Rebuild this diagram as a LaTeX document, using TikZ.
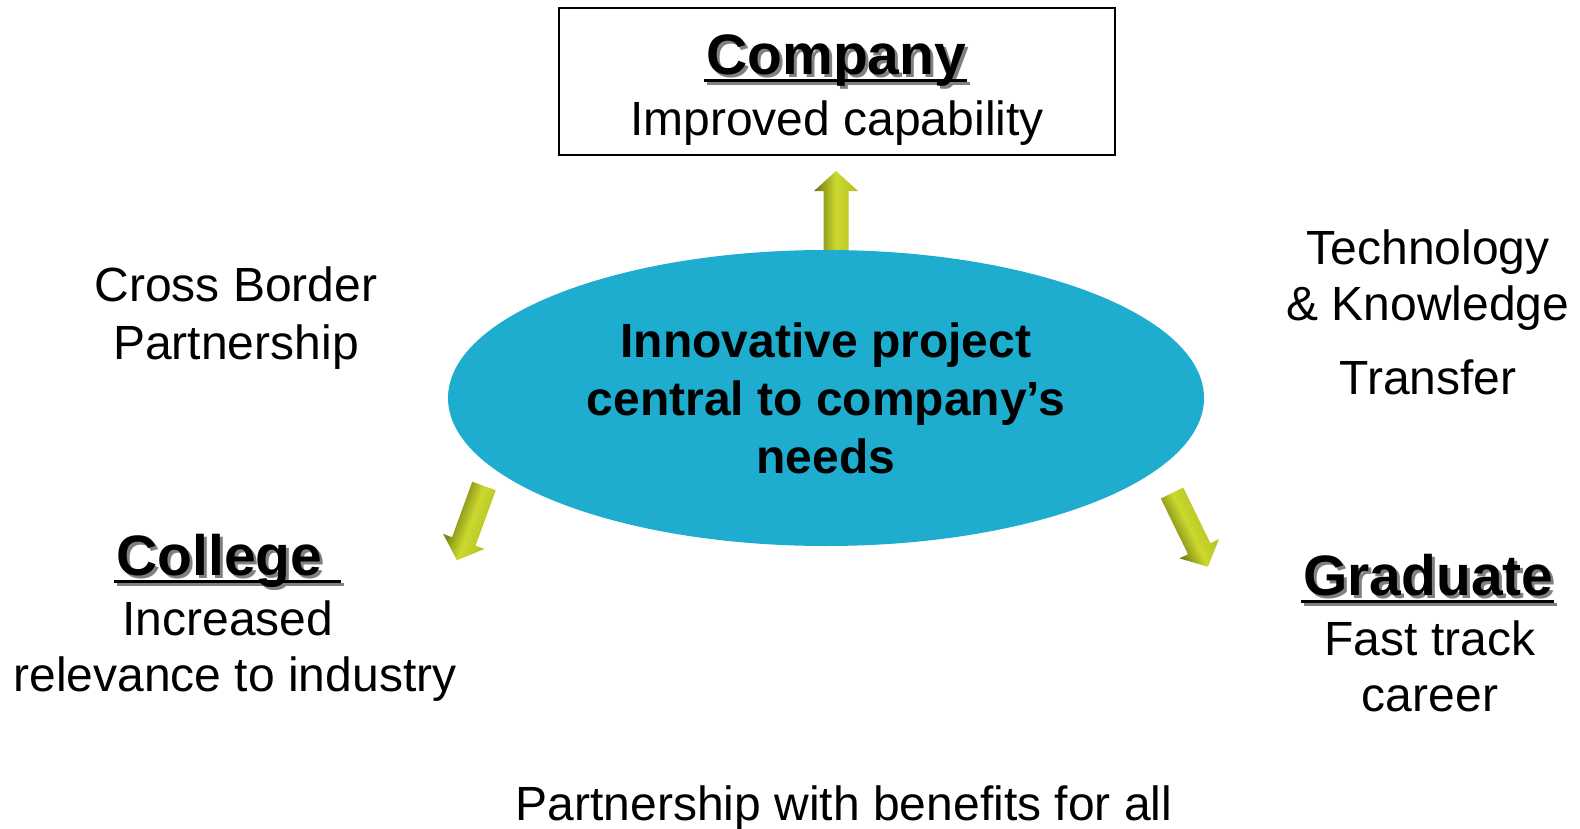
\documentclass[tikz,border=0pt]{standalone}
\usepackage{fontspec}
\setmainfont{Liberation Sans}
\usetikzlibrary{shapes.geometric}

\definecolor{hubblue}{HTML}{1FADCF}
\definecolor{arrowdark}{HTML}{6B7511}
\definecolor{arrowlight}{HTML}{CCD82E}
\definecolor{arrowmid}{HTML}{B4BF22}

\tikzset{
  body/.style={font=\fontsize{24}{29}\selectfont, inner sep=0pt, anchor=base},
  heading/.style={font=\bfseries\fontsize{28.5}{34}\selectfont, inner sep=0pt, anchor=base west},
  headshadow/.style={heading, text=black!50},
  underline/.style={line width=1.5pt},
  hub/.style={ellipse, fill=hubblue, minimum width=378pt, minimum height=148pt, inner sep=0pt,
    align=center, font=\bfseries\fontsize{24}{29}\selectfont},
  darktop/.style={top color=arrowdark, bottom color=arrowmid, middle color=arrowlight},
  darkbottom/.style={bottom color=arrowdark, top color=arrowmid, middle color=arrowlight},
}

% fat shaded arrow: tail x, tail y, angle, length, shading side
\newcommand\liftarrow[5]{%
  \begin{scope}[transform canvas={shift={(#1,#2)}, rotate=#3}]
    \shade[#5] (0,-12.5) -- (#4-20,-12.5) -- (#4-20,-22) -- (#4,0)
      -- (#4-20,22) -- (#4-20,12.5) -- (0,12.5) -- cycle;
  \end{scope}}

\begin{document}
\begin{tikzpicture}[x=0.5pt, y=-0.5pt]
    \useasboundingbox (0,0) rectangle (1580,829);

    % arrows out of the project
    \liftarrow{836}{258}{90}{87}{darktop}
    \liftarrow{484}{486}{250}{79}{darkbottom}
    \liftarrow{1172}{493}{296}{82}{darkbottom}

    \node[hub] (hub) at (826,398) {Innovative project\\central to company’s\\needs};

    % company
    \node[draw, line width=0.8pt, minimum width=278pt, minimum height=73.5pt] (companybox) at (837,81.5) {};
    \node[headshadow] (companyshadow) at (709,78) {Company};
    \draw[underline, black!50] ([shift={(-1pt,-3pt)}]companyshadow.base west) -- ([yshift=-3pt]companyshadow.base east);
    \node[heading] (company) at (706,75) {Company};
    \draw[underline] ([shift={(-1pt,-3pt)}]company.base west) -- ([yshift=-3pt]company.base east);
    \node[body] (capability) at (837,135) {Improved capability};

    % college
    \node[headshadow] (collegeshadow) at (119,578) {College};
    \draw[underline, black!50] ([shift={(-1pt,-3pt)}]collegeshadow.base west) -- ([shift={(9pt,-3pt)}]collegeshadow.base east);
    \node[heading] (college) at (116,575) {College};
    \draw[underline] ([shift={(-1pt,-3pt)}]college.base west) -- ([shift={(9pt,-3pt)}]college.base east);
    \node[body] (increased) at (228,635) {Increased};
    \node[body] (relevance) at (235,691) {relevance to industry};

    % graduate
    \node[headshadow] (graduateshadow) at (1306,598) {Graduate};
    \draw[underline, black!50] ([shift={(-1pt,-3pt)}]graduateshadow.base west) -- ([yshift=-3pt]graduateshadow.base east);
    \node[heading] (graduate) at (1303,595) {Graduate};
    \draw[underline] ([shift={(-1pt,-3pt)}]graduate.base west) -- ([yshift=-3pt]graduate.base east);
    \node[body] (fasttrack) at (1430,655) {Fast track};
    \node[body] (career) at (1430,711) {career};

    % side notes
    \node[body] (crossborder) at (236,301) {Cross Border};
    \node[body] (crosspartner) at (236,359) {Partnership};
    \node[body] (technology) at (1428,264) {Technology};
    \node[body] (knowledge) at (1428,320) {\& Knowledge};
    \node[body] (transfer) at (1428,394) {Transfer};

    \node[body] (benefits) at (844,820) {Partnership with benefits for all};
\end{tikzpicture}
\end{document}
